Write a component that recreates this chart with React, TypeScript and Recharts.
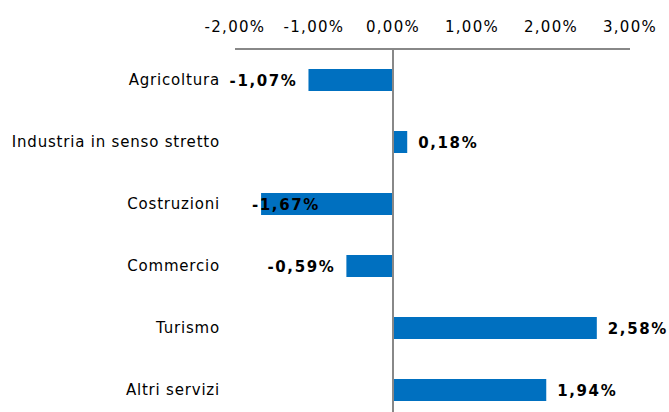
import React from 'react';
import { BarChart, Bar, XAxis, YAxis, ReferenceLine, LabelList } from 'recharts';

const SECTORS = [
  'Agricoltura',
  'Industria in senso stretto',
  'Costruzioni',
  'Commercio',
  'Turismo',
  'Altri servizi',
];
const CHANGES = [-1.07, 0.18, -1.67, -0.59, 2.58, 1.94];
const X_TICKS = [-2, -1, 0, 1, 2, 3];

const FONT = '"DejaVu Sans", Verdana, sans-serif';
const BAR_COLOR = '#0070C0';
const AXIS_COLOR = '#888888';

const fmt = (v: number) => v.toFixed(2).replace('.', ',') + '%';

const data = SECTORS.map((name, i) => ({ name, value: CHANGES[i] }));

// label that would run into the category names gets pushed back inside the plot
const LABEL_MIN_X = 200;
const PLOT_MIN_X = 252;

const ValueLabel = (props: any) => {
  const { x, y, width, height, value } = props;
  const left = Math.min(x, x + width);
  const right = Math.max(x, x + width);
  const cy = y + height / 2;
  const text = fmt(value);
  const approxW = text.length * 11.3;
  let tx = 0;
  let anchor: 'start' | 'end' = 'start';
  if (value < 0) {
    tx = left - 11;
    anchor = 'end';
    if (tx - approxW < LABEL_MIN_X) {
      tx = PLOT_MIN_X;
      anchor = 'start';
    }
  } else {
    tx = right + 11;
  }
  return (
    <text
      x={tx}
      y={cy}
      dy={6}
      textAnchor={anchor}
      fontFamily={FONT}
      fontSize={15}
      fontWeight="bold"
      letterSpacing={1.6}
      fill="#000"
    >
      {text}
    </text>
  );
};

const CategoryTick = (props: any) => {
  const { x, y, payload } = props;
  return (
    <text
      x={x - 7}
      y={y}
      dy={5}
      textAnchor="end"
      fontFamily={FONT}
      fontSize={15}
      letterSpacing={0.8}
      fill="#000"
    >
      {payload.value}
    </text>
  );
};

export default function App() {
  return (
    <div style={{ position: 'absolute', left: 0, top: 0, background: '#fff' }}>
      <BarChart
        width={669}
        height={421}
        data={data}
        layout="vertical"
        margin={{ top: 0, right: 39, bottom: 0, left: 0 }}
      >
        <XAxis
          type="number"
          orientation="top"
          domain={[-2, 3]}
          ticks={X_TICKS}
          tickFormatter={fmt}
          height={49}
          axisLine={{ stroke: AXIS_COLOR, strokeWidth: 2 }}
          tickLine={false}
          tickSize={0}
          tickMargin={17}
          tick={{ fontFamily: FONT, fontSize: 15, fill: '#000', letterSpacing: 1.3 }}
          interval={0}
        />
        <YAxis
          type="category"
          dataKey="name"
          width={235}
          axisLine={false}
          tickLine={false}
          tick={<CategoryTick />}
          interval={0}
        />
        <ReferenceLine x={0} stroke={AXIS_COLOR} strokeWidth={2} />
        <Bar dataKey="value" fill={BAR_COLOR} barSize={22} isAnimationActive={false}>
          <LabelList dataKey="value" content={<ValueLabel />} />
        </Bar>
      </BarChart>
    </div>
  );
}
